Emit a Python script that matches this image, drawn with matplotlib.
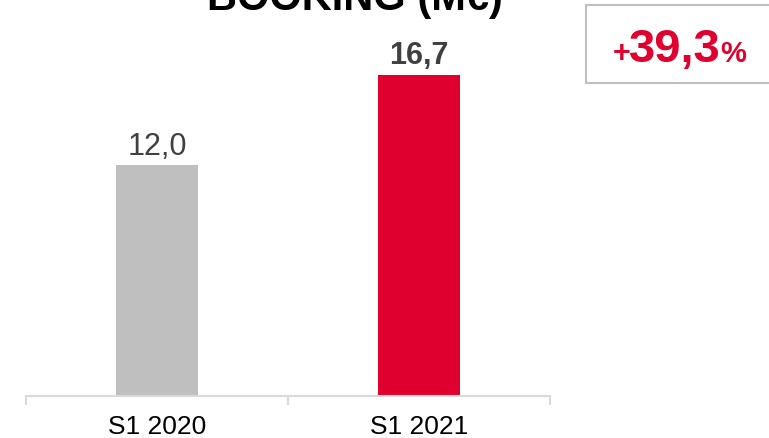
import matplotlib
matplotlib.use('Agg')
import matplotlib.pyplot as plt
from matplotlib.patches import Rectangle

plt.rcParams['font.family'] = ['Liberation Sans', 'DejaVu Sans']

# 数据
categories = ['S1 2020', 'S1 2021']
values = [12.0, 16.7]
value_labels = ['12,0', '16,7']
label_bold = [False, True]
bar_colors = ['#bfbfbf', '#e0002f']
growth_text = '39,3'
title = 'BOOKING (M€)'

W, H = 769, 438
fig = plt.figure(figsize=(W / 100, H / 100), dpi=100)
ax = fig.add_axes([26 / W, 42 / H, 524 / W, 396 / H])

x = range(len(categories))
ax.bar(x, values, width=0.313, color=bar_colors)
ax.set_xlim(-0.5, 1.5)
ax.set_ylim(0, 396 / 19.25)

# 数值标签
for i, v in enumerate(values):
    ax.annotate(value_labels[i], (i, v), xytext=(0, 7.5), textcoords='offset points',
                ha='center', va='baseline', fontsize=22, color='#404040',
                fontweight='bold' if label_bold[i] else 'normal')

# 坐标轴
for s in ['top', 'right', 'left']:
    ax.spines[s].set_visible(False)
ax.spines['bottom'].set_color('#d9d9d9')
ax.spines['bottom'].set_linewidth(1.5)
ax.set_yticks([])
ax.set_xticks([-0.5, 0.5, 1.5])
ax.set_xticklabels([])
ax.tick_params(axis='x', which='major', length=6.5, width=1.5, color='#d9d9d9')
ax.set_xticks(list(x), minor=True)
ax.set_xticklabels(categories, minor=True, fontsize=19, color='black')
ax.tick_params(axis='x', which='minor', length=0, pad=14)

# 标题
fig.text(355 / W, 1 - 10 / H, title, ha='center', va='baseline',
         fontsize=30, fontweight='bold', color='black')

# 增长框
box = Rectangle((586 / W, 1 - 83 / H), 200 / W, 78 / H, transform=fig.transFigure,
                facecolor='white', edgecolor='#bfbfbf', linewidth=1.5)
fig.add_artist(box)
red = bar_colors[1]
y_base = 1 - 62 / H
fig.text(675 / W, y_base, growth_text, ha='center', va='baseline',
         fontsize=34, fontweight='bold', color=red)
fig.text(630 / W, y_base, '+', ha='right', va='baseline',
         fontsize=22, fontweight='bold', color=red)
fig.text(720 / W, y_base, '%', ha='left', va='baseline',
         fontsize=21, fontweight='bold', color=red)

fig.savefig('out.png', dpi=100)
